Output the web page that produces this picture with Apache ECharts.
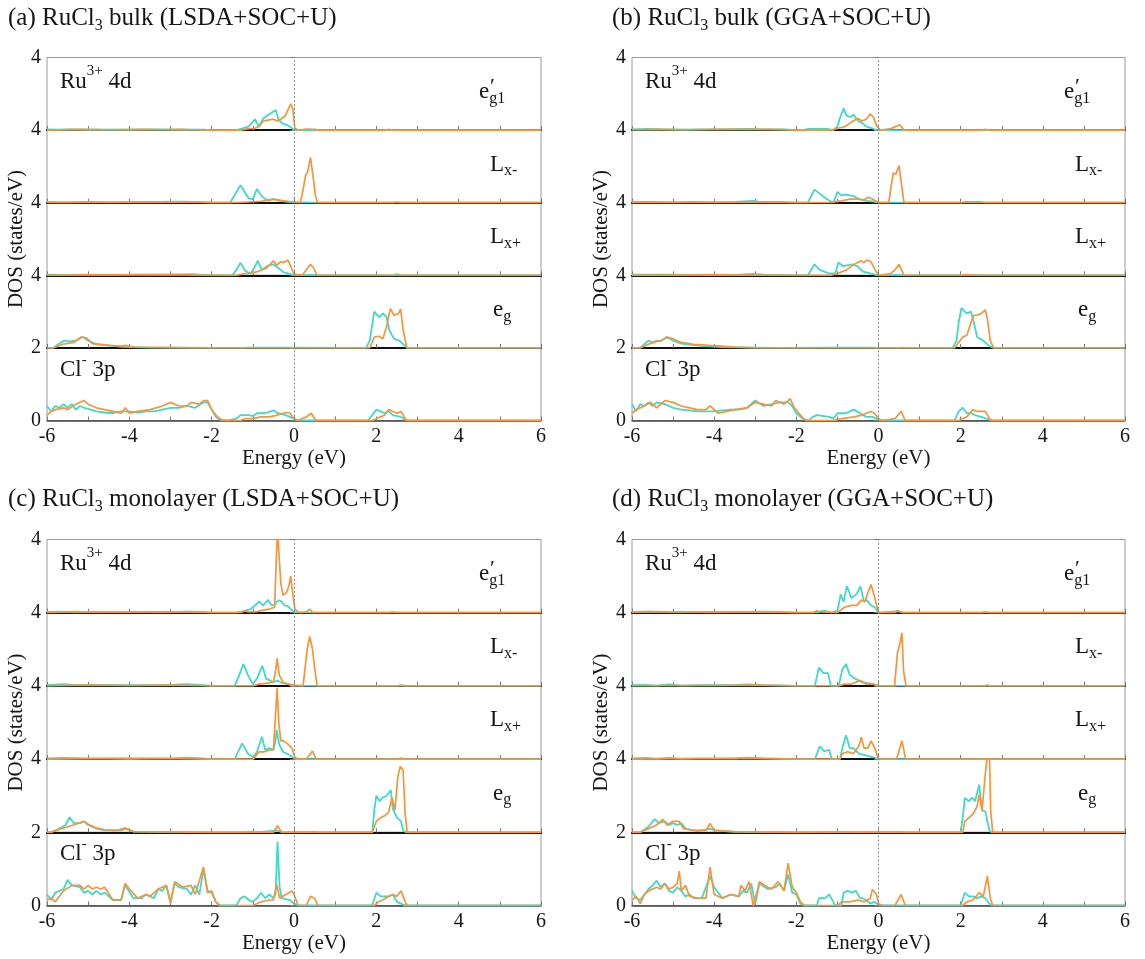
<!DOCTYPE html>
<html>
<head>
<meta charset="utf-8">
<title>RuCl3 projected DOS</title>
<script src="https://cdn.jsdelivr.net/npm/echarts@6/dist/echarts.min.js"></script>
<style>
html, body { margin: 0; padding: 0; background: #fff; }
#chart { width: 1145px; height: 959px; }
</style>
</head>
<body>
<div id="chart"></div>
<script>
// Projected DOS of RuCl3, energies in eV relative to E_F, DOS in states/eV.
// Each channel: [energy, dos] pairs; *_c = first spin channel, *_o = second.

// ---- (a) bulk, LSDA+SOC+U ----
const A_e1_c = [[-6,0.02],[-5.7,0.01],[-5.4,0.02],[-5,0.01],[-4.6,0.01],[-4,0.01],[-3.3,0.02],[-2.8,0.01],[-2.2,0.01],[-2,0],[-1.4,0],[-1.25,0.05],[-1.1,0.1],[-0.95,0.3],[-0.85,0.1],[-0.75,0.32],[-0.62,0.42],[-0.52,0.5],[-0.44,0.55],[-0.38,0.3],[-0.3,0.2],[-0.2,0.15],[-0.1,0.1],[0,0],[6,0]];
const A_e1_o = [[-6,0],[-5.2,0.02],[-4.5,0.01],[-3.6,0.02],[-3.2,0.01],[-2.8,0.02],[-2.4,0.01],[-2,0],[-1.3,0],[-1.1,0.04],[-0.95,0.05],[-0.85,0.1],[-0.75,0.25],[-0.6,0.28],[-0.5,0.3],[-0.4,0.25],[-0.3,0.32],[-0.22,0.38],[-0.15,0.55],[-0.08,0.72],[-0.03,0.6],[0.02,0.05],[0.1,0],[0.3,0.03],[0.5,0.02],[0.6,0],[2.2,0],[2.3,0.02],[2.4,0],[6,0]];
const A_lm_c = [[-6,0.02],[-5.6,0.01],[-5,0.02],[-4.4,0.01],[-3.9,0.02],[-3.3,0.02],[-2.8,0.03],[-2.5,0.02],[-2,0],[-1.55,0],[-1.45,0.2],[-1.3,0.48],[-1.2,0.3],[-1.1,0.12],[-1.0,0.1],[-0.9,0.38],[-0.8,0.2],[-0.7,0.1],[-0.6,0.08],[-0.5,0.1],[-0.35,0.05],[-0.2,0.03],[0,0],[0.3,0.01],[0.4,0],[6,0]];
const A_lm_o = [[-6,0],[-4.8,0.01],[-3.5,0.01],[-2.5,0.02],[-2,0],[-1.4,0],[-1.1,0.02],[-0.8,0.04],[-0.6,0.07],[-0.5,0.1],[-0.35,0.07],[-0.15,0.04],[0,0.02],[0.15,0],[0.22,0.35],[0.28,0.75],[0.33,0.85],[0.4,1.25],[0.46,0.75],[0.52,0.2],[0.57,0],[2.4,0],[2.5,0.02],[2.6,0],[6,0]];
const A_lp_c = [[-6,0.02],[-5.5,0.01],[-5,0.02],[-4.5,0.01],[-3.8,0.02],[-3,0.02],[-2.5,0.03],[-2,0],[-1.5,0],[-1.4,0.15],[-1.3,0.35],[-1.18,0.12],[-1.05,0.05],[-0.97,0.2],[-0.88,0.4],[-0.78,0.15],[-0.65,0.25],[-0.5,0.3],[-0.38,0.2],[-0.25,0.08],[-0.1,0.04],[0,0],[0.5,0.01],[0.6,0],[2.4,0],[2.5,0.03],[2.6,0],[6,0]];
const A_lp_o = [[-6,0],[-5,0.01],[-4,0.01],[-3,0.02],[-2,0],[-1.4,0],[-1.2,0.05],[-1.0,0.06],[-0.85,0.12],[-0.7,0.18],[-0.58,0.3],[-0.5,0.4],[-0.42,0.28],[-0.32,0.38],[-0.25,0.35],[-0.15,0.42],[-0.08,0.25],[0,0.03],[0.2,0],[0.3,0.15],[0.4,0.3],[0.48,0.2],[0.55,0],[6,0]];
const A_eg_c = [[-6,0],[-5.85,0],[-5.7,0.12],[-5.58,0.2],[-5.44,0.18],[-5.3,0.2],[-5.13,0.3],[-5.0,0.2],[-4.8,0.1],[-4.45,0.06],[-4.18,0.03],[-3.55,0.01],[-2.65,0],[-1.2,0],[-1.1,0.01],[-0.2,0.01],[1.75,0],[1.84,0.2],[1.95,1.0],[2.07,0.85],[2.16,0.95],[2.25,0.85],[2.31,0.5],[2.43,0.25],[2.56,0.2],[2.7,0.05],[2.75,0],[6,0]];
const A_eg_o = [[-6,0],[-5.85,0],[-5.62,0.1],[-5.35,0.15],[-5.17,0.3],[-5.04,0.28],[-4.9,0.12],[-4.5,0.07],[-4.18,0.05],[-4.1,0.07],[-3.9,0.02],[-2.6,0.01],[-2,0],[1.84,0],[1.95,0.3],[2.07,0.32],[2.16,0.25],[2.25,0.6],[2.34,1.08],[2.43,0.9],[2.54,0.95],[2.59,1.07],[2.65,0.5],[2.74,0],[6,0]];
const A_cl_c = [[-6,0.4],[-5.9,0.25],[-5.8,0.4],[-5.7,0.35],[-5.6,0.45],[-5.5,0.35],[-5.4,0.45],[-5.3,0.3],[-5.2,0.4],[-5.1,0.35],[-5,0.32],[-4.8,0.25],[-4.6,0.22],[-4.4,0.2],[-4.2,0.25],[-4,0.25],[-3.8,0.22],[-3.6,0.25],[-3.4,0.25],[-3.2,0.3],[-3,0.35],[-2.8,0.35],[-2.6,0.4],[-2.4,0.35],[-2.2,0.5],[-2.1,0.5],[-2,0.3],[-1.9,0.1],[-1.8,0.02],[-1.6,0],[-1.4,0.05],[-1.3,0.15],[-1.1,0.15],[-1,0.12],[-0.9,0.2],[-0.7,0.2],[-0.5,0.28],[-0.4,0.2],[-0.2,0.15],[0,0.05],[0.1,0],[1.8,0],[1.9,0.15],[2,0.3],[2.1,0.25],[2.2,0.2],[2.3,0.25],[2.4,0.15],[2.6,0.1],[2.7,0.02],[2.75,0],[6,0]];
const A_cl_o = [[-6,0.15],[-5.9,0.25],[-5.8,0.3],[-5.6,0.35],[-5.5,0.3],[-5.3,0.45],[-5.1,0.55],[-5,0.45],[-4.8,0.35],[-4.6,0.3],[-4.4,0.25],[-4.2,0.2],[-4.1,0.35],[-4,0.2],[-3.8,0.25],[-3.5,0.3],[-3.2,0.4],[-3,0.5],[-2.8,0.4],[-2.6,0.4],[-2.5,0.5],[-2.3,0.45],[-2.2,0.55],[-2.1,0.55],[-2,0.3],[-1.9,0.15],[-1.8,0.05],[-1.7,0],[-1.3,0],[-1.2,0.05],[-1,0.05],[-0.8,0.1],[-0.6,0.1],[-0.4,0.15],[-0.2,0.22],[-0.1,0.2],[0,0.05],[0.1,0],[0.3,0.1],[0.42,0.2],[0.5,0.05],[0.55,0],[1.9,0],[2,0.05],[2.1,0.1],[2.2,0.15],[2.3,0.3],[2.4,0.25],[2.5,0.2],[2.6,0.25],[2.7,0.05],[2.75,0],[6,0]];

// ---- (b) bulk, GGA+SOC+U ----
const B_e1_c = [[-6,0.02],[-5.6,0.03],[-5.2,0.02],[-4.8,0.01],[-4.3,0.02],[-3.8,0.02],[-3.2,0.03],[-2.8,0.02],[-2.3,0.02],[-2,0],[-1.8,0.01],[-1.7,0.03],[-1.4,0.03],[-1.26,0.03],[-1.1,0],[-1.0,0.1],[-0.95,0.3],[-0.85,0.6],[-0.78,0.4],[-0.69,0.36],[-0.6,0.42],[-0.5,0.25],[-0.4,0.2],[-0.3,0.1],[-0.16,0.05],[-0.05,0],[6,0]];
const B_e1_o = [[-6,0.01],[-5.4,0.02],[-4.6,0.01],[-4,0.02],[-3.4,0.02],[-2.6,0.02],[-2,0],[-1.15,0],[-1.0,0.05],[-0.85,0.08],[-0.75,0.15],[-0.62,0.25],[-0.5,0.32],[-0.4,0.25],[-0.3,0.3],[-0.2,0.45],[-0.12,0.35],[-0.04,0.1],[0.05,0],[0.3,0.04],[0.42,0.1],[0.52,0.15],[0.62,0],[2.5,0],[2.6,0.02],[2.7,0],[6,0]];
const B_lm_c = [[-6,0.02],[-5.5,0.02],[-5,0.01],[-4.5,0.02],[-4,0.01],[-3.5,0.02],[-3.05,0.05],[-2.9,0.02],[-2.4,0.02],[-2,0],[-1.72,0],[-1.56,0.36],[-1.43,0.25],[-1.26,0.1],[-1.1,0],[-1.0,0.3],[-0.9,0.2],[-0.8,0.22],[-0.7,0.2],[-0.6,0.18],[-0.47,0.1],[-0.3,0.05],[-0.12,0.03],[0,0],[6,0]];
const B_lm_o = [[-6,0],[-4.5,0.01],[-3,0.01],[-2,0],[-1.2,0],[-0.9,0.05],[-0.7,0.1],[-0.5,0.1],[-0.35,0.08],[-0.25,0.15],[-0.15,0.1],[0,0],[0.25,0],[0.3,0.4],[0.36,0.82],[0.42,0.78],[0.5,1.02],[0.56,0.5],[0.62,0],[2,0],[2.1,0.02],[2.5,0.02],[2.6,0],[6,0]];
const B_lp_c = [[-6,0.02],[-5.5,0.02],[-5,0.02],[-4.5,0.01],[-4,0.02],[-3.5,0.01],[-3.05,0.04],[-2.8,0.02],[-2,0],[-1.72,0],[-1.56,0.3],[-1.43,0.15],[-1.2,0.05],[-1.05,0.05],[-0.98,0.35],[-0.86,0.25],[-0.65,0.3],[-0.51,0.25],[-0.38,0.1],[-0.2,0.05],[0,0],[0.5,0.01],[0.6,0],[2.2,0],[2.3,0.01],[2.6,0],[6,0]];
const B_lp_o = [[-6,0],[-4,0.01],[-2,0],[-1.15,0],[-1.0,0.05],[-0.78,0.15],[-0.6,0.3],[-0.43,0.4],[-0.36,0.35],[-0.28,0.42],[-0.19,0.38],[-0.08,0.15],[0,0],[0.3,0.05],[0.4,0.15],[0.5,0.3],[0.58,0.1],[0.62,0],[2,0],[2.1,0.02],[2.4,0],[6,0]];
const B_eg_c = [[-6,0],[-5.8,0],[-5.7,0.1],[-5.6,0.2],[-5.5,0.15],[-5.4,0.2],[-5.3,0.18],[-5.15,0.3],[-5,0.2],[-4.8,0.12],[-4.5,0.08],[-4.2,0.05],[-3.8,0.02],[-3,0.01],[-2.6,0],[-2.2,0],[-1.1,0.01],[-0.2,0.01],[0,0],[1.8,0],[1.9,0.2],[1.95,0.7],[2.02,1.1],[2.1,1.0],[2.15,0.95],[2.25,1.0],[2.32,0.7],[2.4,0.3],[2.55,0.2],[2.7,0.05],[2.8,0],[6,0]];
const B_eg_o = [[-6,0],[-5.8,0],[-5.6,0.1],[-5.4,0.18],[-5.3,0.2],[-5.15,0.3],[-5,0.25],[-4.8,0.15],[-4.5,0.1],[-4.2,0.08],[-4,0.06],[-3.5,0.02],[-3,0],[0.5,0],[0.6,0.01],[0.7,0],[1.85,0],[1.95,0.15],[2.05,0.3],[2.15,0.35],[2.25,0.7],[2.32,0.9],[2.4,0.9],[2.5,0.95],[2.6,1.05],[2.65,0.8],[2.72,0.2],[2.8,0],[6,0]];
const B_cl_c = [[-6,0.45],[-5.9,0.25],[-5.8,0.45],[-5.7,0.4],[-5.6,0.5],[-5.5,0.4],[-5.4,0.5],[-5.2,0.45],[-5,0.35],[-4.8,0.3],[-4.6,0.28],[-4.4,0.25],[-4.2,0.25],[-4,0.25],[-3.8,0.28],[-3.6,0.3],[-3.4,0.3],[-3.2,0.35],[-3,0.55],[-2.8,0.4],[-2.6,0.45],[-2.4,0.5],[-2.2,0.5],[-2.1,0.4],[-2,0.2],[-1.85,0.05],[-1.7,0],[-1.6,0.1],[-1.5,0.15],[-1.2,0.1],[-1.1,0.05],[-1,0.2],[-0.8,0.2],[-0.6,0.3],[-0.45,0.2],[-0.3,0.1],[-0.15,0.1],[0,0.02],[0.05,0],[1.85,0],[1.95,0.25],[2.05,0.35],[2.15,0.2],[2.25,0.2],[2.35,0.15],[2.5,0.1],[2.7,0.02],[2.8,0],[6,0]];
const B_cl_o = [[-6,0.2],[-5.9,0.3],[-5.7,0.4],[-5.55,0.5],[-5.4,0.35],[-5.2,0.55],[-5,0.5],[-4.8,0.4],[-4.6,0.35],[-4.4,0.3],[-4.2,0.3],[-4.1,0.4],[-3.9,0.2],[-3.7,0.25],[-3.5,0.3],[-3.2,0.35],[-3,0.5],[-2.8,0.45],[-2.6,0.4],[-2.5,0.55],[-2.3,0.45],[-2.15,0.6],[-2.05,0.35],[-1.9,0.15],[-1.8,0.02],[-1.7,0],[-1.1,0],[-0.9,0.05],[-0.6,0.1],[-0.4,0.15],[-0.2,0.25],[-0.1,0.2],[0,0.05],[0.1,0],[0.4,0.05],[0.55,0.25],[0.65,0],[1.95,0],[2.05,0.05],[2.15,0.1],[2.3,0.3],[2.4,0.25],[2.5,0.25],[2.6,0.25],[2.7,0.05],[2.75,0],[6,0]];

// ---- (c) monolayer, LSDA+SOC+U ----
const C_e1_c = [[-6,0.02],[-5.7,0.03],[-5.3,0.01],[-4.8,0.02],[-4.2,0.01],[-3.6,0.02],[-3,0.02],[-2.6,0.03],[-2.2,0.02],[-2,0],[-1.4,0],[-1.2,0.05],[-1.05,0.1],[-0.95,0.2],[-0.85,0.3],[-0.75,0.2],[-0.63,0.35],[-0.54,0.2],[-0.47,0.22],[-0.42,0.3],[-0.36,0.34],[-0.3,0.3],[-0.23,0.2],[-0.15,0.18],[-0.08,0.1],[0,0.02],[0.05,0],[6,0]];
const C_e1_o = [[-6,0],[-5.6,0.02],[-5.3,0.03],[-4.8,0.01],[-3.9,0.02],[-3.3,0.01],[-2.8,0.02],[-2,0],[-1.3,0],[-1.2,0.05],[-1.1,0.02],[-0.9,0.03],[-0.75,0.07],[-0.6,0.1],[-0.47,0.15],[-0.43,1.5],[-0.4,2.2],[-0.36,2.2],[-0.32,0.8],[-0.27,0.48],[-0.18,0.55],[-0.12,0.75],[-0.08,1.0],[-0.04,0.6],[0.02,0.1],[0.12,0],[0.3,0.02],[0.38,0.1],[0.46,0],[2.3,0],[2.4,0.02],[2.5,0],[6,0]];
const C_lm_c = [[-6,0.02],[-5.6,0.05],[-5.3,0.02],[-4.8,0.03],[-4.3,0.02],[-3.8,0.02],[-3.2,0.02],[-2.6,0.05],[-2.2,0.02],[-2,0],[-1.44,0],[-1.33,0.3],[-1.23,0.6],[-1.12,0.3],[-1.0,0.05],[-0.9,0.2],[-0.77,0.55],[-0.68,0.2],[-0.59,0.15],[-0.5,0.1],[-0.4,0.15],[-0.3,0.08],[-0.15,0.05],[0,0],[6,0]];
const C_lm_o = [[-6,0],[-5,0.02],[-4,0.01],[-3,0.02],[-2,0],[-1.0,0],[-0.85,0.05],[-0.68,0.07],[-0.5,0.1],[-0.45,0.4],[-0.41,0.75],[-0.36,0.3],[-0.27,0.1],[-0.14,0.05],[0,0.02],[0.22,0],[0.27,0.5],[0.32,1.0],[0.38,1.35],[0.45,1.0],[0.5,0.5],[0.56,0],[2.5,0],[2.6,0.02],[2.7,0],[6,0]];
const C_lp_c = [[-6,0.02],[-5.6,0.03],[-5,0.02],[-4.5,0.02],[-4,0.01],[-3.5,0.02],[-3,0.02],[-2.6,0.04],[-2.2,0.02],[-2,0],[-1.44,0],[-1.36,0.2],[-1.26,0.43],[-1.12,0.15],[-0.99,0.05],[-0.9,0.2],[-0.78,0.61],[-0.7,0.25],[-0.59,0.3],[-0.5,0.25],[-0.45,0.5],[-0.42,0.8],[-0.36,0.4],[-0.27,0.2],[-0.09,0.1],[0.02,0],[6,0]];
const C_lp_o = [[-6,0],[-5,0.01],[-4,0.02],[-3,0.01],[-2,0],[-0.99,0],[-0.85,0.2],[-0.72,0.2],[-0.59,0.25],[-0.5,0.25],[-0.45,1.2],[-0.41,1.95],[-0.37,1.0],[-0.32,0.5],[-0.25,0.5],[-0.14,0.4],[-0.05,0.3],[0.02,0.05],[0.1,0],[0.3,0],[0.38,0.12],[0.45,0.22],[0.54,0],[2.5,0],[2.6,0.03],[2.7,0],[6,0]];
const C_eg_c = [[-6,0],[-5.9,0],[-5.7,0.1],[-5.55,0.2],[-5.45,0.41],[-5.35,0.25],[-5.2,0.25],[-5.1,0.3],[-5,0.2],[-4.8,0.1],[-4.6,0.05],[-4.2,0.05],[-4.1,0.1],[-3.9,0.02],[-3.5,0.01],[-3,0],[-1.2,0],[-1.1,0.02],[-0.8,0.01],[-0.4,0.05],[-0.3,0],[1.9,0],[1.95,0.6],[2,1.0],[2.08,0.85],[2.15,0.95],[2.25,1.0],[2.35,1.15],[2.4,0.65],[2.5,0.4],[2.6,0.3],[2.65,0.05],[2.72,0],[6,0]];
const C_eg_o = [[-6,0],[-5.9,0],[-5.7,0.08],[-5.5,0.15],[-5.3,0.22],[-5.1,0.3],[-5,0.22],[-4.8,0.12],[-4.6,0.07],[-4.3,0.05],[-4.1,0.12],[-3.9,0.02],[-3,0.01],[-2,0],[-0.5,0],[-0.4,0.18],[-0.3,0],[0.5,0.01],[0.6,0],[1.9,0],[2,0.3],[2.1,0.4],[2.2,0.45],[2.3,0.55],[2.38,0.95],[2.45,0.6],[2.52,1.5],[2.58,1.8],[2.65,1.7],[2.7,0.5],[2.75,0],[6,0]];
const C_cl_c = [[-6,0.3],[-5.9,0.15],[-5.8,0.35],[-5.6,0.45],[-5.5,0.7],[-5.4,0.55],[-5.2,0.5],[-5.1,0.35],[-5,0.4],[-4.9,0.3],[-4.8,0.4],[-4.7,0.3],[-4.6,0.35],[-4.4,0.15],[-4.2,0.15],[-4.1,0.55],[-3.9,0.2],[-3.7,0.2],[-3.6,0.3],[-3.4,0.2],[-3.3,0.45],[-3.2,0.4],[-3.1,0.55],[-3,0.1],[-2.9,0.6],[-2.8,0.5],[-2.6,0.45],[-2.5,0.3],[-2.4,0.55],[-2.3,0.3],[-2.2,1.0],[-2.1,0.4],[-2,0.35],[-1.9,0.1],[-1.8,0],[-1.4,0],[-1.3,0.2],[-1.2,0.25],[-1.1,0.15],[-1,0.1],[-0.9,0.2],[-0.8,0.35],[-0.7,0.2],[-0.6,0.3],[-0.5,0.2],[-0.45,0.3],[-0.4,1.75],[-0.35,0.5],[-0.3,0.2],[-0.1,0.15],[0,0.05],[0.1,0],[1.9,0],[2,0.35],[2.1,0.25],[2.2,0.25],[2.3,0.25],[2.4,0.3],[2.5,0.1],[2.6,0.05],[2.7,0],[6,0]];
const C_cl_o = [[-6,0.15],[-5.9,0.2],[-5.8,0.1],[-5.6,0.4],[-5.4,0.55],[-5.2,0.55],[-5.1,0.45],[-5,0.55],[-4.9,0.45],[-4.8,0.5],[-4.7,0.45],[-4.6,0.5],[-4.4,0.15],[-4.2,0.15],[-4.1,0.6],[-4,0.45],[-3.8,0.2],[-3.6,0.3],[-3.5,0.25],[-3.3,0.45],[-3.1,0.55],[-3,0.05],[-2.9,0.65],[-2.7,0.5],[-2.5,0.55],[-2.4,0.3],[-2.2,1.05],[-2.1,0.35],[-2,0.4],[-1.9,0.1],[-1.8,0],[-1,0],[-0.8,0.1],[-0.6,0.15],[-0.5,0.15],[-0.42,0.57],[-0.35,0.2],[-0.2,0.3],[-0.05,0.4],[0,0.3],[0.1,0],[0.3,0],[0.4,0.25],[0.5,0.2],[0.58,0],[1.95,0],[2.05,0.1],[2.15,0.15],[2.3,0.25],[2.4,0.3],[2.5,0.25],[2.6,0.4],[2.7,0.1],[2.75,0],[6,0]];

// ---- (d) monolayer, GGA+SOC+U ----
const D_e1_c = [[-6,0.02],[-5.7,0.03],[-5.3,0.02],[-4.9,0.01],[-4.4,0.02],[-3.9,0.02],[-3.3,0.02],[-2.8,0.03],[-2.4,0.02],[-2,0],[-1.5,0],[-1.4,0.04],[-1.3,0.05],[-1.15,0],[-1.0,0.05],[-0.92,0.5],[-0.85,0.3],[-0.77,0.73],[-0.66,0.4],[-0.54,0.5],[-0.44,0.72],[-0.35,0.3],[-0.29,0.35],[-0.18,0.2],[-0.09,0.15],[0,0],[0.5,0.04],[0.6,0],[6,0]];
const D_e1_o = [[-6,0.01],[-5.6,0.03],[-5.1,0.02],[-4.6,0.02],[-4,0.01],[-3.1,0.02],[-2.5,0.01],[-2,0],[-1.6,0],[-1.5,0.05],[-1.4,0.02],[-1.0,0],[-0.83,0.15],[-0.66,0.2],[-0.53,0.2],[-0.41,0.35],[-0.33,0.3],[-0.26,0.55],[-0.18,0.77],[-0.09,0.4],[0,0],[0.4,0],[0.45,0.05],[0.52,0.03],[0.6,0],[2.5,0],[2.6,0.02],[2.7,0],[6,0]];
const D_lm_c = [[-6,0.02],[-5.7,0.03],[-5.4,0.01],[-5.1,0.04],[-4.8,0.01],[-4.4,0.02],[-3.9,0.02],[-3.5,0.02],[-3.2,0.04],[-2.8,0.02],[-2,0],[-1.55,0],[-1.45,0.5],[-1.34,0.35],[-1.23,0.35],[-1.16,0],[-0.97,0],[-0.88,0.45],[-0.79,0.6],[-0.7,0.3],[-0.57,0.2],[-0.4,0.1],[-0.13,0.05],[0,0],[6,0]];
const D_lm_o = [[-6,0],[-5,0.01],[-4,0.01],[-3,0.02],[-2,0],[-0.97,0],[-0.83,0.05],[-0.66,0.05],[-0.44,0.15],[-0.31,0.05],[-0.13,0.05],[0,0],[0.39,0],[0.46,0.9],[0.53,1.2],[0.57,1.45],[0.61,0.4],[0.67,0],[2.6,0],[2.65,0.02],[2.7,0],[6,0]];
const D_lp_c = [[-6,0.02],[-5.7,0.03],[-5.4,0.01],[-5.1,0.03],[-4.8,0.01],[-4.4,0.02],[-3.9,0.02],[-3.5,0.02],[-3.2,0.04],[-2.8,0.02],[-2,0],[-1.55,0],[-1.43,0.35],[-1.32,0.22],[-1.2,0.25],[-1.14,0],[-0.94,0],[-0.88,0.3],[-0.79,0.65],[-0.7,0.3],[-0.61,0.3],[-0.48,0.15],[-0.31,0.1],[-0.13,0.05],[0,0],[6,0]];
const D_lp_o = [[-6,0],[-5,0.01],[-4,0.01],[-3,0.02],[-2,0],[-0.94,0],[-0.88,0.15],[-0.75,0.2],[-0.61,0.15],[-0.48,0.35],[-0.42,0.6],[-0.35,0.3],[-0.26,0.3],[-0.18,0.5],[-0.09,0.3],[0,0],[0.44,0],[0.57,0.5],[0.66,0],[6,0]];
const D_eg_c = [[-6,0],[-5.8,0],[-5.6,0.15],[-5.45,0.36],[-5.35,0.25],[-5.2,0.3],[-5.1,0.2],[-5,0.25],[-4.9,0.2],[-4.8,0.25],[-4.7,0.1],[-4.4,0.03],[-4.1,0.1],[-4,0.05],[-3.5,0.01],[-2,0],[-0.8,0.01],[-0.6,0],[2,0],[2.05,0.4],[2.1,0.94],[2.2,0.85],[2.28,0.95],[2.35,0.85],[2.45,1.3],[2.52,0.6],[2.6,0.57],[2.65,0.3],[2.7,0.05],[2.75,0],[6,0]];
const D_eg_o = [[-6,0],[-5.8,0],[-5.6,0.1],[-5.4,0.2],[-5.25,0.35],[-5.15,0.2],[-5,0.3],[-4.85,0.3],[-4.75,0.1],[-4.5,0.05],[-4.2,0.05],[-4.1,0.24],[-4,0.05],[-3.5,0.02],[-3,0.01],[-2,0],[0.5,0.01],[0.6,0],[2.05,0],[2.1,0.3],[2.2,0.4],[2.3,0.5],[2.4,0.7],[2.45,1.03],[2.52,0.6],[2.6,1.6],[2.65,2.1],[2.7,2.1],[2.73,0.6],[2.78,0],[6,0]];
const D_cl_c = [[-6,0.4],[-5.9,0.2],[-5.8,0.15],[-5.7,0.3],[-5.6,0.45],[-5.5,0.55],[-5.4,0.68],[-5.3,0.5],[-5.2,0.6],[-5.1,0.4],[-5,0.35],[-4.9,0.5],[-4.8,0.4],[-4.7,0.25],[-4.6,0.3],[-4.5,0.2],[-4.3,0.2],[-4.1,0.8],[-4,0.5],[-3.8,0.2],[-3.6,0.3],[-3.4,0.25],[-3.3,0.4],[-3.2,0.35],[-3.1,0.6],[-3,0.05],[-2.9,0.6],[-2.7,0.45],[-2.5,0.5],[-2.4,0.6],[-2.3,0.4],[-2.2,0.85],[-2.1,0.35],[-2,0.3],[-1.9,0.05],[-1.8,0],[-1.5,0],[-1.45,0.2],[-1.3,0.2],[-1.2,0.3],[-1.1,0.1],[-1.05,0],[-0.9,0],[-0.85,0.35],[-0.75,0.4],[-0.65,0.35],[-0.55,0.4],[-0.45,0.2],[-0.4,0.2],[-0.3,0.15],[-0.2,0.05],[-0.1,0.1],[0,0.02],[0.05,0],[2,0],[2.1,0.35],[2.2,0.25],[2.3,0.25],[2.4,0.2],[2.5,0.25],[2.6,0.2],[2.7,0.05],[2.75,0],[6,0]];
const D_cl_o = [[-6,0.15],[-5.9,0.25],[-5.8,0.05],[-5.7,0.3],[-5.6,0.4],[-5.5,0.45],[-5.4,0.5],[-5.3,0.45],[-5.2,0.6],[-5.1,0.45],[-5,0.5],[-4.9,0.6],[-4.85,0.94],[-4.8,0.4],[-4.7,0.55],[-4.6,0.25],[-4.4,0.2],[-4.2,0.2],[-4.1,1.05],[-4,0.3],[-3.8,0.2],[-3.6,0.3],[-3.4,0.25],[-3.35,0.55],[-3.25,0.4],[-3.15,0.65],[-3.05,0],[-2.95,0.4],[-2.9,0.65],[-2.7,0.5],[-2.6,0.45],[-2.45,0.65],[-2.3,0.4],[-2.2,1.16],[-2.1,0.5],[-2,0.35],[-1.9,0.1],[-1.8,0],[-1,0],[-0.9,0.1],[-0.7,0.1],[-0.5,0.15],[-0.35,0.1],[-0.2,0.2],[-0.15,0.44],[-0.05,0.3],[0,0.05],[0.1,0],[0.4,0],[0.55,0.3],[0.65,0],[2.05,0],[2.15,0.1],[2.3,0.15],[2.45,0.35],[2.55,0.25],[2.65,0.8],[2.72,0.2],[2.78,0],[6,0]];

// Panel headings (rich text markup: n = normal, s = subscript)
const panelTitles = [
  '{n|(a) RuCl}{s|3}{n| bulk (LSDA+SOC+U)}',
  '{n|(b) RuCl}{s|3}{n| bulk (GGA+SOC+U)}',
  '{n|(c) RuCl}{s|3}{n| monolayer (LSDA+SOC+U)}',
  '{n|(d) RuCl}{s|3}{n| monolayer (GGA+SOC+U)}'
];
// Tick labels at the left edge of each stacked sub-plot: [top, bottom]
const yTickLabels = [['4', '4'], ['', '4'], ['', '4'], ['', '2'], ['', '0']];
const xLabelName = 'Energy (eV)';
const yLabelName = 'DOS (states/eV)';

const panelData = [
  [[A_e1_c, A_e1_o], [A_lm_c, A_lm_o], [A_lp_c, A_lp_o], [A_eg_c, A_eg_o], [A_cl_c, A_cl_o]],
  [[B_e1_c, B_e1_o], [B_lm_c, B_lm_o], [B_lp_c, B_lp_o], [B_eg_c, B_eg_o], [B_cl_c, B_cl_o]],
  [[C_e1_c, C_e1_o], [C_lm_c, C_lm_o], [C_lp_c, C_lp_o], [C_eg_c, C_eg_o], [C_cl_c, C_cl_o]],
  [[D_e1_c, D_e1_o], [D_lm_c, D_lm_o], [D_lp_c, D_lp_o], [D_eg_c, D_eg_o], [D_cl_c, D_cl_o]]
];

// ---- styling and layout ----
const SERIF = '"Liberation Serif", "Times New Roman", "DejaVu Serif", serif';
const TXT = '#161616';
const CYAN = '#3fdac8';
const ORANGE = '#f8943a';
const layout = [
  { left: 47,  right: 541,  top: 57.5,  h: 72.6, titleX: 8,   titleY: 20 },
  { left: 632, right: 1125, top: 57.5,  h: 72.6, titleX: 612, titleY: 20 },
  { left: 47,  right: 541,  top: 539.5, h: 73.2, titleX: 8,   titleY: 501 },
  { left: 632, right: 1125, top: 539.5, h: 73.2, titleX: 612, titleY: 501 }
];

const labelRich = {
  n: { fontSize: 23, fontFamily: SERIF, fill: TXT, verticalAlign: 'top', padding: [6, 0, 0, 0] },
  p: { fontSize: 15, fontFamily: SERIF, fill: TXT, verticalAlign: 'top', padding: [0, 0, 0, 0] },
  s: { fontSize: 16, fontFamily: SERIF, fill: TXT, verticalAlign: 'top', padding: [16, 0, 0, 0] }
};
const titleRich = {
  n: { fontSize: 25, fontFamily: SERIF, fill: TXT, verticalAlign: 'top', padding: [0, 0, 0, 0] },
  s: { fontSize: 16, fontFamily: SERIF, fill: TXT, verticalAlign: 'top', padding: [12, 0, 0, 0] }
};

function textEl(x, y, text, rich) {
  return {
    type: 'text', x: x, y: y, silent: true,
    style: { text: text, rich: rich, align: 'left', verticalAlign: 'middle', fill: TXT, fontFamily: SERIF, fontSize: 23 }
  };
}

const grids = [], xAxes = [], yAxes = [], series = [], elements = [];

layout.forEach(function (P, pi) {
  const tops = [];
  for (let k = 0; k < 5; k++) {
    const gi = grids.length;
    const top = P.top + k * P.h;
    tops.push(top);
    const isBottom = k === 4;
    const isTop = k === 0;
    grids.push({ left: P.left, top: top, width: P.right - P.left, height: P.h, show: true, borderColor: '#9a9a9a', borderWidth: 1, backgroundColor: 'transparent' });
    xAxes.push({
      gridIndex: gi, type: 'value', min: -6, max: 6, interval: 1,
      axisLine: { show: true, onZero: false, lineStyle: { color: isBottom ? '#444' : '#111', width: isBottom ? 1.5 : 2 } },
      axisTick: { show: true, inside: true, length: 4, lineStyle: { color: '#777', width: 1 } },
      splitLine: { show: false },
      axisLabel: {
        show: isBottom, fontSize: 20, fontFamily: SERIF, color: TXT, margin: 6,
        formatter: function (v) { return (Math.round(v) % 2 === 0) ? String(v) : ''; }
      },
      name: isBottom ? xLabelName : '', nameLocation: 'middle', nameGap: 27,
      nameTextStyle: { fontSize: 21, fontFamily: SERIF, color: TXT }
    });
    const labs = yTickLabels[k];
    yAxes.push({
      gridIndex: gi, type: 'value', min: 0, max: 2, interval: 2,
      axisLine: { show: false },
      axisTick: { show: true, length: 4, lineStyle: { color: '#777' } },
      splitLine: { show: false },
      axisLabel: {
        fontSize: 20, fontFamily: SERIF, color: TXT, margin: 6,
        padding: [0, 0, isTop || isBottom ? 8 : 4, 0],
        formatter: function (v) { return v === 0 ? labs[1] : (v === 2 ? labs[0] : ''); }
      },
      name: k === 2 ? yLabelName : '', nameLocation: 'middle', nameGap: 14,
      nameTextStyle: { fontSize: 21, fontFamily: SERIF, color: TXT }
    });
    const pair = panelData[pi][k];
    series.push({
      type: 'line', xAxisIndex: gi, yAxisIndex: gi, data: pair[0],
      showSymbol: false, symbol: 'none', clip: true, z: 3,
      lineStyle: { color: CYAN, width: 1.8 }, itemStyle: { color: CYAN },
      markLine: {
        silent: true, symbol: 'none', label: { show: false },
        lineStyle: { color: '#8a8a8a', type: [2, 2], width: 1 },
        data: [{ xAxis: 0 }]
      }
    });
    series.push({
      type: 'line', xAxisIndex: gi, yAxisIndex: gi, data: pair[1],
      showSymbol: false, symbol: 'none', clip: true, z: 4,
      lineStyle: { color: ORANGE, width: 1.7 }, itemStyle: { color: ORANGE }
    });
  }

  // headings and channel labels
  elements.push(textEl(P.titleX, P.titleY, panelTitles[pi], titleRich));
  const L = P.left;
  elements.push(textEl(L + 13, tops[0] + 21, '{n|Ru}{p|3+}{n| 4d}', labelRich));
  elements.push(textEl(L + 432, tops[0] + 33, '{n|e}{s|g1}', labelRich));
  elements.push({ type: 'text', x: L + 443, y: tops[0] + 30, silent: true,
    style: { text: '\u2032', align: 'left', verticalAlign: 'middle', fill: TXT, fontFamily: SERIF, fontSize: 22 } });
  elements.push(textEl(L + 443, tops[1] + 33, '{n|L}{s|x-}', labelRich));
  elements.push(textEl(L + 443, tops[2] + 33, '{n|L}{s|x+}', labelRich));
  elements.push(textEl(L + 446, tops[3] + 33, '{n|e}{s|g}', labelRich));
  elements.push(textEl(L + 13, tops[4] + 19, '{n|Cl}{p|-}{n| 3p}', labelRich));
});

const chart = echarts.init(document.getElementById('chart'), null, { renderer: 'canvas' });
chart.setOption({
  backgroundColor: '#ffffff',
  animation: false,
  grid: grids,
  xAxis: xAxes,
  yAxis: yAxes,
  series: series,
  graphic: { elements: elements }
});
</script>
</body>
</html>
